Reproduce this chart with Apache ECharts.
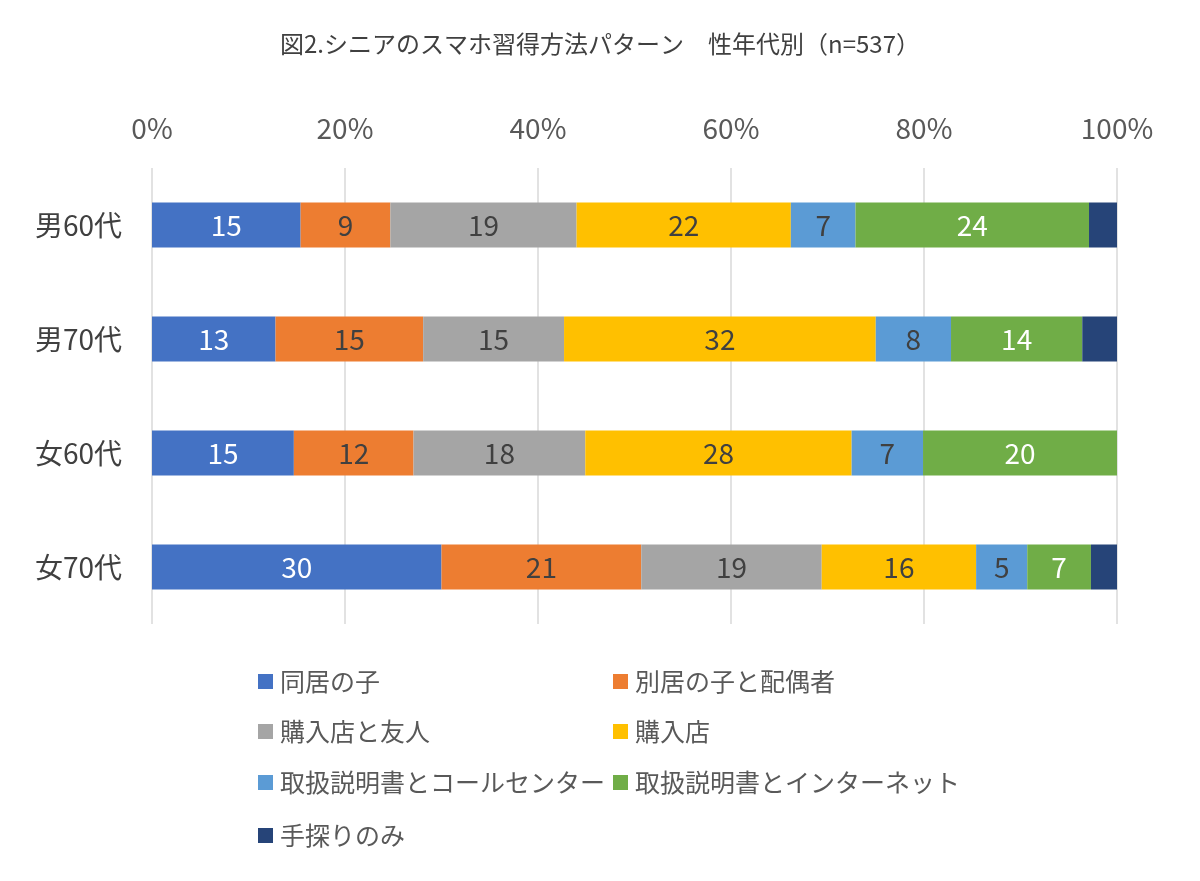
<!DOCTYPE html>
<html>
<head>
<meta charset="utf-8">
<script src="https://cdn.jsdelivr.net/npm/echarts@6/dist/echarts.min.js"></script>
<style>html,body{margin:0;padding:0;background:#fff}#c{width:1200px;height:881px}</style>
</head>
<body>
<div id="c"></div>
<script>
var titleText = '図2.シニアのスマホ習得方法パターン　性年代別（n=537）';
var categories = ['男60代', '男70代', '女60代', '女70代'];
var seriesNames = ['同居の子', '別居の子と配偶者', '購入店と友人', '購入店', '取扱説明書とコールセンター', '取扱説明書とインターネット', '手探りのみ'];
var sDoukyo   = [15.4, 12.8, 14.7, 30.0];
var sBekkyo   = [9.3, 15.3, 12.4, 20.7];
var sKounyuYu = [19.3, 14.6, 17.8, 18.7];
var sKounyu   = [22.2, 32.3, 27.6, 16.0];
var sCall     = [6.7, 7.8, 7.4, 5.3];
var sNet      = [24.2, 13.6, 20.1, 6.6];
var sTesaguri = [2.9, 3.6, 0, 2.7];
var xTicks = [0, 20, 40, 60, 80, 100];

var seriesData = [sDoukyo, sBekkyo, sKounyuYu, sKounyu, sCall, sNet, sTesaguri];
var colors = ['#4472C4', '#ED7D31', '#A5A5A5', '#FFC000', '#5B9BD5', '#70AD47', '#264478'];
var labelColors = ['#ffffff', '#404040', '#404040', '#404040', '#404040', '#ffffff', null];
var FONT = '"Noto Sans CJK JP", "Noto Sans", sans-serif';

var chart = echarts.init(document.getElementById('c'), null, {renderer: 'canvas'});

var series = seriesNames.map(function (name, i) {
  return {
    name: name,
    type: 'bar',
    stack: 'total',
    barWidth: 45,
    itemStyle: {color: colors[i]},
    emphasis: {disabled: true},
    label: {
      show: labelColors[i] !== null,
      position: 'inside',
      color: labelColors[i] || '#404040',
      fontSize: 28,
      fontFamily: FONT,
      formatter: function (p) { return p.value > 0 ? Math.round(p.value) : ''; }
    },
    data: seriesData[i]
  };
});

var legendPos = [
  [258, 683], [613, 683],
  [258, 733], [613, 733],
  [258, 784], [613, 784],
  [258, 837]
];
var legends = seriesNames.map(function (name, i) {
  return {
    data: [name],
    left: legendPos[i][0],
    top: legendPos[i][1] - 14,
    itemWidth: 15,
    itemHeight: 15,
    itemGap: 0,
    icon: 'rect',
    selectedMode: false,
    padding: 0,
    textStyle: {fontSize: 25, color: '#595959', fontFamily: FONT, padding: [0, 0, 0, 2]}
  };
});

chart.setOption({
  backgroundColor: '#ffffff',
  animation: false,
  color: colors,
  title: {
    text: titleText,
    left: 'center',
    top: 27,
    textStyle: {fontSize: 24, fontWeight: 'normal', color: '#404040', fontFamily: FONT}
  },
  legend: legends,
  grid: {left: 152, right: 83, top: 168, height: 456, containLabel: false},
  xAxis: {
    type: 'value',
    position: 'top',
    min: 0,
    max: 100,
    interval: 20,
    axisLine: {show: false},
    axisTick: {show: false},
    splitLine: {show: true, lineStyle: {color: '#D9D9D9', width: 1.5}},
    axisLabel: {
      fontSize: 28,
      color: '#595959',
      fontFamily: FONT,
      margin: 26,
      customValues: xTicks,
      formatter: '{value}%'
    }
  },
  yAxis: {
    type: 'category',
    inverse: true,
    data: categories,
    axisLine: {show: false},
    axisTick: {show: false},
    axisLabel: {fontSize: 28, color: '#404040', fontFamily: FONT, margin: 30}
  },
  series: series
});
</script>
</body>
</html>
